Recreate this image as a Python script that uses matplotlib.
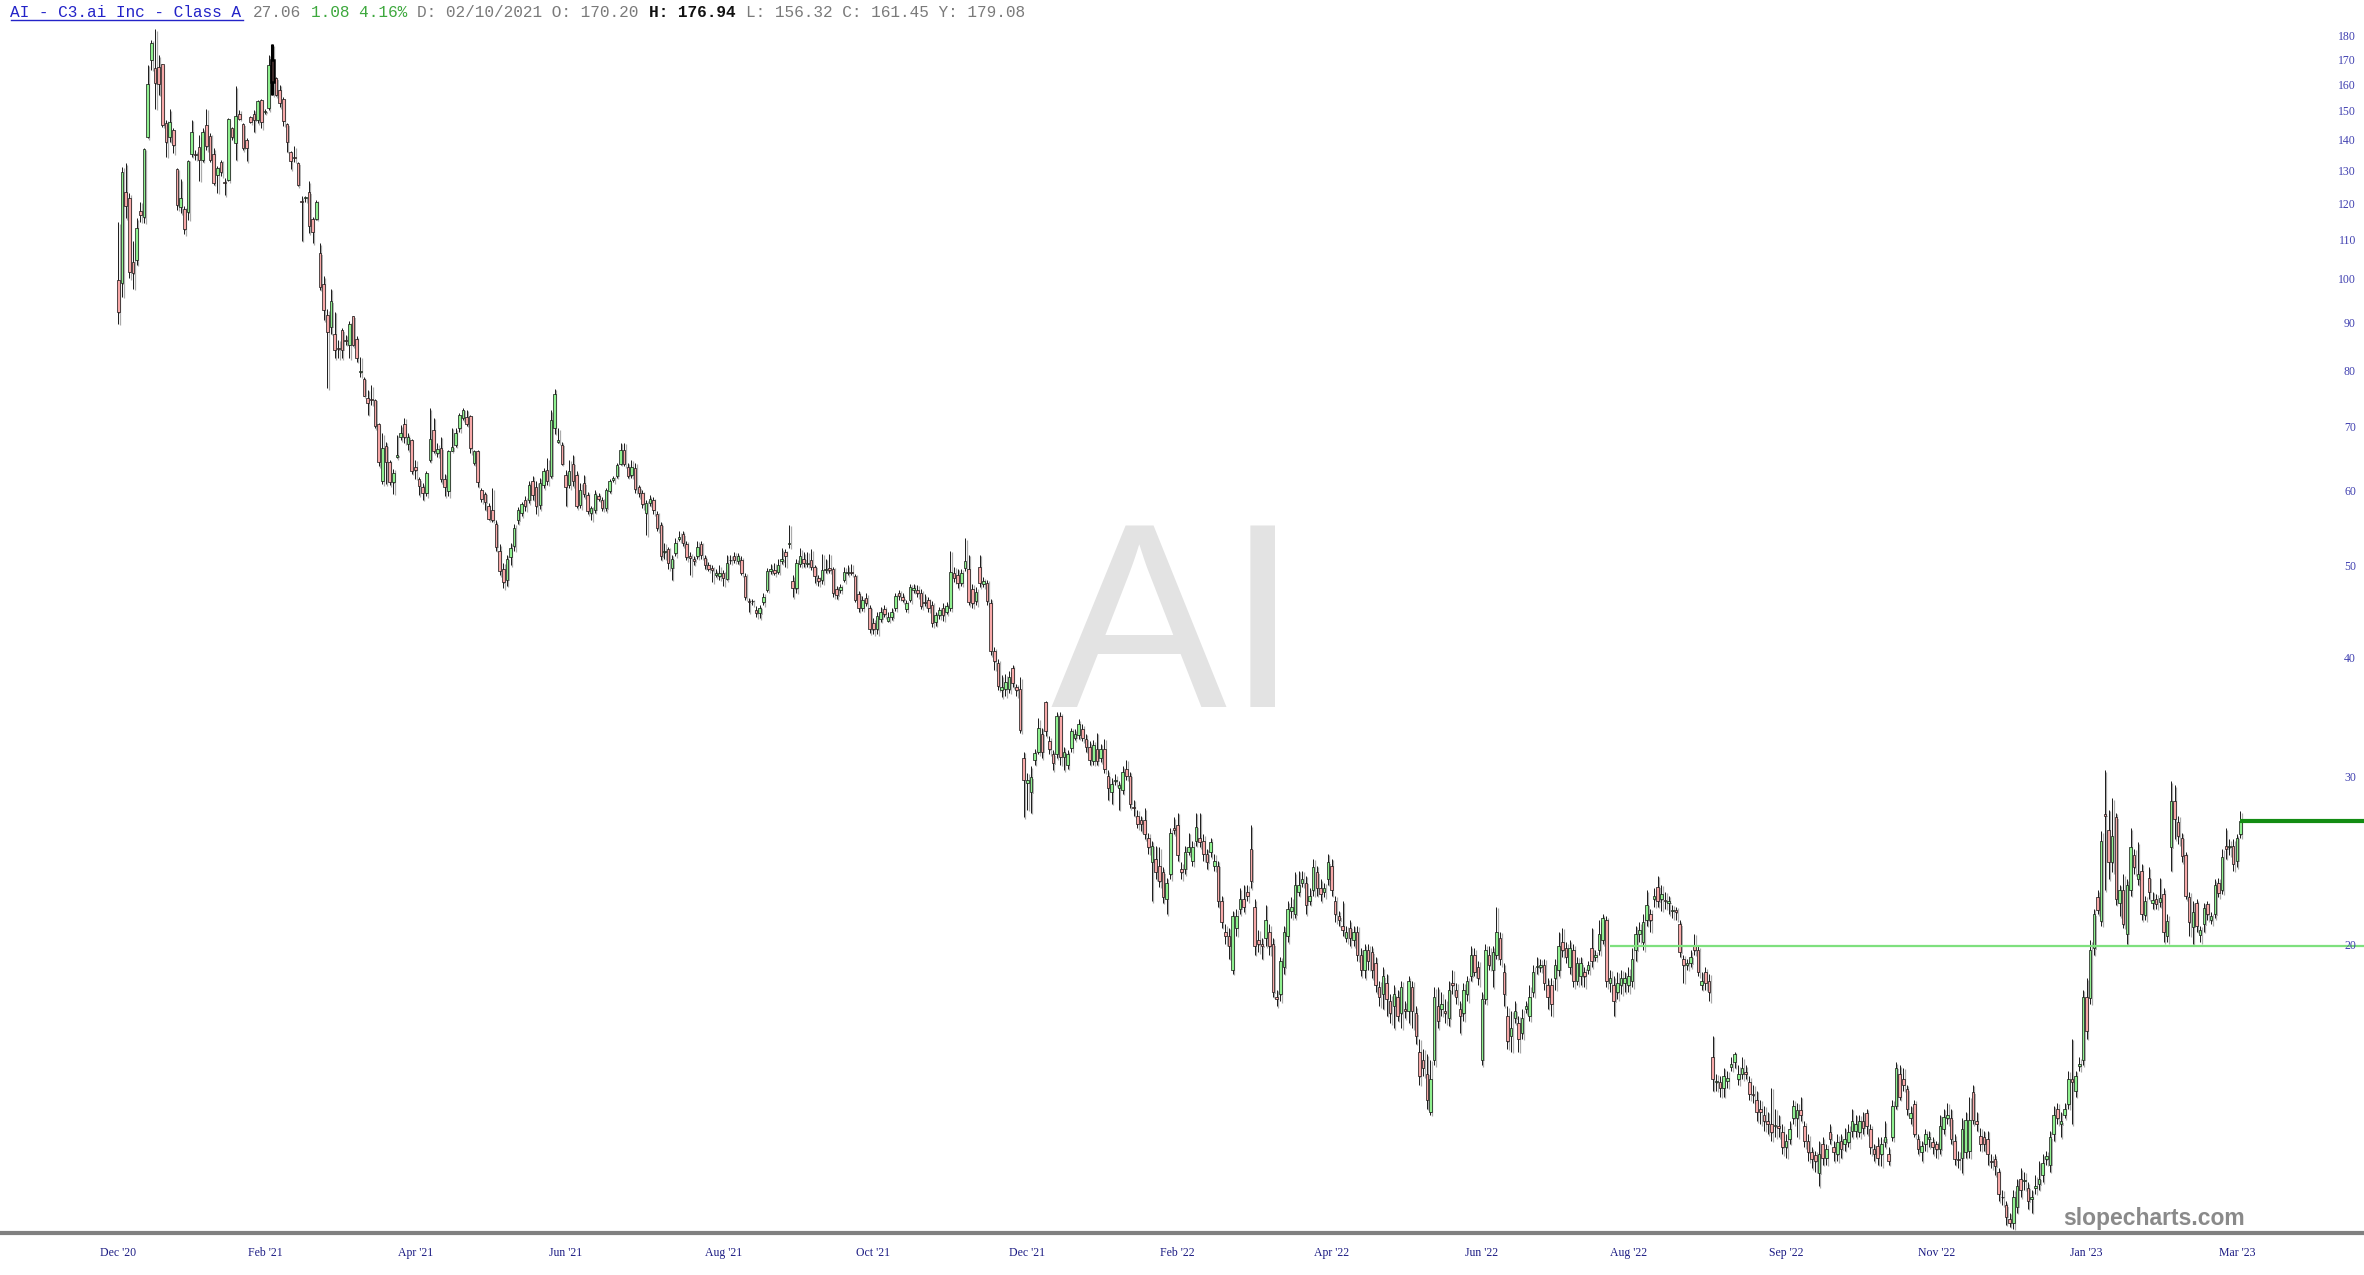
import numpy as np
import matplotlib.pyplot as plt
from matplotlib.lines import Line2D
from matplotlib.transforms import ScaledTranslation, blended_transform_factory

# Daily candles for AI (C3.ai), Dec 2020 - Mar 2023
open_ = [
    100.0, 99.3, 123.7, 122.0, 104.4, 104.9, 118.3, 116.4, 141.5, 170.3,
    166.8, 167.5, 168.4, 146.1, 141.5, 143.8, 130.8, 119.3, 118.7, 117.8,
    135.7, 135.7, 138.0, 133.7, 145.4, 141.7, 135.7, 129.0, 133.1, 126.8,
    127.5, 144.4, 139.2, 149.3, 145.8, 140.3, 148.4, 149.3, 147.3, 154.7,
    150.0, 151.6, 170.2, 162.8, 158.4, 154.9, 145.8, 136.4, 134.6, 132.6,
    121.1, 122.0, 123.7, 115.8, 115.9, 106.7, 99.1, 91.9, 89.4, 87.9,
    84.8, 88.6, 86.5, 85.6, 91.6, 86.7, 80.0, 78.8, 75.3, 75.0,
    74.9, 70.6, 61.6, 67.0, 64.5, 61.4, 65.3, 68.4, 70.6, 67.3,
    68.0, 63.6, 61.8, 60.7, 59.8, 64.8, 69.7, 65.8, 66.6, 61.9,
    60.1, 66.2, 67.1, 69.9, 71.6, 71.9, 72.0, 64.3, 66.1, 60.2,
    59.7, 58.0, 57.4, 55.5, 52.0, 49.8, 48.5, 51.2, 52.6, 56.0,
    57.0, 58.8, 58.8, 61.5, 60.7, 58.1, 61.0, 63.2, 62.3, 69.9,
    67.6, 67.2, 62.5, 61.0, 64.2, 62.5, 58.1, 61.2, 59.5, 56.9,
    57.4, 59.4, 58.8, 57.6, 60.1, 61.7, 62.3, 64.2, 66.4, 63.7,
    62.4, 63.5, 60.6, 59.8, 56.9, 58.3, 58.8, 56.8, 55.4, 51.8,
    52.2, 49.9, 51.7, 53.5, 54.1, 52.9, 51.3, 51.0, 51.3, 52.8,
    51.1, 50.3, 49.9, 49.1, 48.9, 49.3, 48.6, 50.8, 51.4, 50.7,
    50.9, 48.9, 46.0, 46.0, 45.1, 44.7, 45.9, 47.3, 49.5, 49.6,
    49.4, 50.7, 51.8, 52.9, 48.3, 47.5, 50.4, 51.0, 50.4, 50.9,
    50.0, 48.7, 48.4, 49.6, 49.9, 49.7, 47.4, 47.3, 48.5, 49.3,
    49.4, 48.9, 46.8, 45.3, 46.4, 45.3, 43.7, 43.0, 44.1, 45.2,
    43.9, 44.3, 45.3, 46.9, 46.5, 45.2, 46.2, 47.3, 47.3, 47.0,
    45.9, 46.2, 45.6, 43.8, 44.5, 45.3, 44.9, 45.3, 49.3, 49.0,
    48.1, 49.9, 49.7, 47.4, 46.0, 50.0, 48.0, 48.1, 45.8, 40.8,
    39.6, 37.1, 37.2, 37.2, 39.2, 37.4, 37.2, 31.5, 29.7, 29.0,
    31.4, 32.0, 33.4, 36.1, 32.8, 31.8, 31.8, 34.9, 31.6, 31.0,
    32.3, 33.1, 33.3, 33.8, 33.0, 32.4, 31.3, 32.2, 31.5, 32.2,
    30.2, 29.0, 29.8, 29.3, 29.2, 30.7, 30.2, 28.0, 27.4, 27.1,
    27.1, 26.0, 24.5, 24.7, 24.3, 23.9, 22.4, 23.8, 26.6, 26.8,
    24.1, 24.1, 25.1, 24.6, 25.8, 26.0, 25.8, 25.0, 25.1, 24.3,
    24.3, 22.3, 20.7, 20.5, 18.9, 20.9, 21.9, 22.4, 22.8, 25.3,
    22.0, 20.3, 20.1, 20.4, 20.7, 20.1, 17.7, 17.8, 19.0, 20.5,
    21.8, 21.6, 22.8, 23.3, 23.3, 22.3, 22.9, 23.9, 23.0, 22.8,
    23.5, 24.3, 22.3, 21.5, 21.0, 20.4, 20.9, 20.3, 20.7, 19.6,
    18.9, 19.8, 19.7, 19.2, 18.1, 17.8, 18.3, 17.5, 17.3, 17.7,
    17.0, 17.2, 17.1, 18.1, 17.0, 15.5, 15.2, 14.7, 13.4, 15.2,
    17.3, 17.2, 17.1, 16.8, 18.3, 18.0, 17.2, 17.0, 17.8, 18.6,
    19.6, 19.0, 15.2, 17.6, 19.6, 18.9, 19.6, 20.4, 18.8, 16.9,
    16.1, 16.8, 16.6, 16.2, 17.2, 16.9, 17.9, 19.0, 19.0, 19.1,
    18.2, 18.2, 18.5, 18.9, 20.2, 19.9, 19.0, 19.8, 18.4, 18.6,
    18.8, 18.9, 19.9, 19.5, 19.8, 20.3, 21.3, 18.3, 18.2, 17.9,
    18.2, 18.3, 18.2, 18.4, 19.8, 20.6, 20.2, 21.3, 21.6, 22.4,
    23.1, 22.4, 22.35, 22.2, 21.8, 21.85, 21.1, 19.4, 19.1, 19.2,
    20.0, 19.8, 18.2, 18.8, 18.4, 15.3, 14.4, 14.4, 14.2, 14.45,
    14.95, 15.1, 14.5, 14.7, 14.75, 14.4, 14.0, 13.8, 13.5, 13.3,
    13.1, 13.0, 12.95, 12.95, 12.75, 12.3, 12.55, 13.2, 13.2, 13.45,
    12.95, 12.5, 12.15, 12.06, 11.55, 12.4, 12.0, 12.75, 12.3, 12.1,
    12.5, 12.4, 12.45, 12.8, 12.8, 12.75, 13.1, 13.35, 12.85, 12.25,
    12.35, 12.1, 12.45, 12.1, 12.6, 13.6, 14.7, 14.5, 14.15, 13.2,
    13.65, 12.55, 12.15, 12.4, 12.56, 12.45, 12.4, 12.25, 12.85, 13.2,
    13.2, 12.5, 11.95, 12.0, 12.15, 12.2, 14.05, 13.1, 12.65, 12.6,
    12.55, 11.9, 11.95, 11.6, 10.92, 10.7, 10.35, 10.25, 10.65, 11.4,
    11.35, 11.15, 10.85, 11.15, 11.25, 11.5, 11.95, 11.8, 12.7, 13.5,
    13.0, 13.3, 13.65, 14.5, 14.1, 14.97, 15.2, 17.7, 17.65, 19.9,
    22.5, 21.25, 27.5, 26.5, 24.5, 27.3, 22.2, 22.9, 20.6, 22.9,
    24.9, 23.5, 24.0, 21.55, 23.6, 22.2, 22.4, 22.25, 22.7, 20.5,
    25.4, 28.4, 27.0, 26.0, 24.9, 22.5, 20.95, 22.2, 20.55, 21.1,
    22.15, 21.3, 21.6, 23.3, 22.9, 25.5, 25.4, 25.5, 24.6, 26.2,
]

high = [
    115.0, 131.6, 132.6, 123.4, 109.8, 116.1, 120.8, 137.5, 168.2, 178.7,
    183.3, 172.3, 168.8, 147.3, 151.1, 144.4, 131.0, 127.6, 119.5, 133.7,
    147.3, 136.9, 141.9, 144.4, 151.4, 142.7, 137.5, 131.8, 133.7, 128.0,
    147.9, 144.9, 159.8, 150.9, 146.1, 140.9, 148.6, 150.9, 154.7, 155.1,
    151.1, 172.5, 176.94, 163.5, 160.3, 155.5, 146.1, 136.6, 138.2, 133.1,
    122.5, 122.5, 127.0, 116.6, 121.4, 109.3, 101.0, 93.2, 97.9, 92.7,
    86.6, 89.0, 87.6, 90.5, 91.8, 87.3, 83.1, 79.2, 76.7, 77.6,
    75.0, 70.8, 69.1, 67.7, 64.8, 63.4, 68.8, 70.4, 71.7, 69.1,
    68.2, 64.8, 62.1, 61.2, 63.0, 73.4, 71.7, 67.4, 68.5, 62.6,
    66.4, 70.0, 69.9, 72.5, 73.4, 73.1, 72.2, 66.4, 66.4, 60.5,
    60.0, 58.3, 60.5, 56.0, 52.8, 50.5, 51.5, 53.0, 55.5, 57.8,
    58.5, 59.3, 61.5, 62.3, 61.5, 62.0, 63.5, 65.0, 73.0, 76.9,
    69.9, 67.7, 63.2, 64.8, 65.6, 63.0, 61.3, 62.5, 60.0, 58.0,
    60.2, 59.8, 59.2, 60.5, 61.8, 62.3, 64.3, 67.5, 67.5, 64.3,
    64.8, 64.3, 61.0, 60.2, 58.8, 59.5, 59.2, 57.2, 55.8, 53.0,
    52.5, 51.5, 53.6, 54.5, 54.6, 53.3, 51.8, 51.4, 53.3, 53.2,
    51.5, 50.6, 50.2, 49.7, 50.2, 49.6, 51.5, 51.5, 51.9, 51.7,
    51.3, 49.3, 46.4, 46.3, 45.5, 45.6, 47.0, 49.9, 50.4, 50.5,
    51.0, 52.3, 52.2, 55.4, 49.0, 51.0, 52.3, 51.8, 51.9, 52.2,
    50.3, 49.0, 51.6, 51.0, 51.6, 50.0, 47.8, 48.0, 50.0, 50.2,
    50.4, 49.2, 47.2, 46.6, 46.9, 45.6, 44.2, 44.9, 45.4, 45.6,
    44.8, 45.3, 47.0, 47.3, 46.9, 46.2, 48.0, 48.0, 47.9, 47.4,
    46.8, 46.5, 46.0, 44.9, 45.4, 45.8, 45.9, 52.0, 50.0, 49.8,
    49.8, 53.6, 51.5, 48.0, 47.6, 51.5, 48.8, 48.5, 46.3, 41.2,
    40.0, 38.5, 38.6, 38.9, 39.5, 37.7, 38.3, 32.0, 30.4, 30.9,
    32.2, 34.7, 33.9, 36.2, 33.2, 32.1, 35.2, 35.2, 32.4, 32.1,
    33.9, 33.8, 34.6, 34.2, 33.4, 32.8, 32.9, 33.5, 32.6, 33.0,
    30.6, 30.0, 30.3, 29.8, 30.9, 31.4, 30.5, 28.5, 27.8, 27.4,
    27.9, 26.3, 25.8, 25.5, 25.4, 24.2, 23.6, 26.6, 27.3, 27.6,
    24.5, 25.5, 26.3, 25.8, 27.6, 27.6, 26.2, 25.3, 26.0, 25.0,
    24.6, 22.6, 21.1, 20.9, 21.8, 21.9, 23.0, 23.2, 23.2, 26.8,
    22.4, 20.8, 20.4, 22.1, 21.1, 20.4, 18.0, 19.5, 21.0, 22.3,
    22.5, 23.9, 24.0, 24.0, 23.7, 23.0, 24.7, 24.3, 23.5, 23.3,
    25.0, 24.7, 22.6, 21.8, 22.3, 21.0, 21.3, 21.0, 21.0, 19.9,
    20.1, 20.1, 20.0, 19.5, 18.4, 19.0, 18.7, 17.8, 18.2, 18.0,
    18.4, 17.5, 18.6, 18.4, 17.3, 16.0, 15.6, 15.4, 15.2, 18.1,
    18.1, 17.9, 17.6, 18.4, 18.9, 18.3, 17.5, 18.3, 18.6, 20.0,
    19.9, 19.3, 17.9, 20.1, 20.0, 20.0, 22.0, 20.7, 19.2, 17.3,
    17.1, 17.5, 16.9, 17.2, 17.5, 18.2, 19.1, 19.5, 19.4, 19.4,
    18.5, 18.5, 19.4, 20.7, 20.9, 20.2, 20.3, 20.1, 19.5, 19.5,
    19.0, 19.3, 20.9, 19.8, 21.3, 21.6, 21.5, 18.9, 18.6, 18.8,
    18.9, 18.8, 19.0, 19.9, 21.0, 21.2, 21.6, 22.9, 21.9, 23.0,
    23.7, 23.2, 22.8, 22.6, 22.1, 22.0, 21.3, 19.6, 19.4, 19.8,
    20.6, 20.0, 18.8, 19.0, 18.7, 16.1, 14.7, 14.6, 14.9, 14.8,
    15.3, 15.5, 15.0, 15.3, 15.0, 14.6, 14.3, 14.1, 13.8, 13.6,
    13.4, 14.2, 13.5, 13.3, 13.0, 12.7, 13.1, 13.8, 13.7, 13.9,
    13.1, 12.7, 12.3, 12.2, 12.5, 12.6, 12.4, 13.0, 12.5, 12.7,
    12.7, 12.9, 13.0, 13.5, 13.3, 13.3, 13.4, 13.5, 13.0, 12.4,
    12.6, 12.6, 13.1, 12.3, 13.8, 15.1, 15.0, 14.9, 14.3, 13.6,
    13.8, 12.7, 12.5, 12.85, 12.8, 12.6, 12.5, 13.3, 13.5, 13.7,
    13.5, 12.7, 12.2, 13.2, 13.4, 13.9, 14.3, 13.4, 12.9, 12.8,
    12.8, 12.1, 12.1, 11.7, 11.1, 10.8, 10.5, 11.1, 11.4, 11.7,
    11.6, 11.3, 11.1, 11.5, 11.9, 12.1, 12.2, 12.8, 13.6, 13.7,
    13.4, 13.7, 14.8, 16.0, 14.8, 15.3, 18.0, 18.5, 20.3, 21.9,
    22.9, 26.4, 30.6, 27.8, 28.6, 27.6, 23.2, 23.8, 23.5, 26.6,
    25.3, 25.7, 24.4, 22.6, 24.2, 22.8, 22.7, 23.6, 23.0, 21.6,
    29.8, 29.5, 27.4, 26.3, 25.1, 22.8, 22.3, 22.4, 21.0, 22.2,
    22.3, 21.7, 23.5, 23.6, 25.3, 26.6, 25.9, 25.9, 26.2, 27.7,
]

low = [
    90.0, 96.1, 116.1, 100.5, 97.9, 103.8, 115.2, 114.9, 140.9, 166.2,
    151.4, 156.5, 144.9, 134.8, 139.8, 135.9, 118.6, 117.6, 111.8, 115.7,
    134.8, 133.7, 127.2, 133.1, 136.9, 133.1, 125.9, 123.5, 128.5, 122.8,
    127.0, 140.3, 133.7, 147.3, 136.9, 133.3, 146.1, 143.2, 146.1, 144.4,
    149.5, 150.8, 156.32, 155.9, 151.8, 145.2, 136.4, 130.7, 133.1, 125.4,
    110.0, 120.9, 112.0, 109.3, 115.7, 97.7, 90.8, 77.0, 87.9, 82.8,
    82.8, 82.8, 85.6, 82.8, 85.2, 82.1, 79.2, 75.5, 72.2, 74.0,
    69.9, 63.8, 61.1, 61.1, 60.9, 59.7, 65.0, 67.9, 67.4, 66.3,
    62.6, 61.9, 59.5, 58.8, 59.3, 64.5, 65.8, 65.3, 61.4, 59.3,
    59.3, 66.1, 66.9, 69.3, 71.3, 70.3, 65.8, 64.0, 60.7, 58.5,
    57.4, 56.0, 55.8, 52.0, 49.0, 47.5, 47.8, 50.2, 52.0, 55.5,
    56.5, 57.3, 58.3, 58.8, 56.8, 57.5, 60.5, 61.0, 62.0, 69.0,
    67.4, 64.0, 58.0, 60.5, 60.8, 57.6, 57.6, 59.2, 56.8, 56.0,
    57.0, 58.7, 57.3, 57.2, 59.8, 61.4, 62.0, 64.0, 63.8, 62.0,
    62.0, 59.8, 59.2, 57.6, 54.0, 58.0, 56.8, 54.5, 50.9, 51.0,
    49.7, 48.5, 51.3, 53.2, 52.6, 50.8, 49.0, 50.3, 51.0, 51.0,
    49.8, 49.5, 48.2, 48.8, 48.5, 47.8, 48.4, 50.4, 50.5, 50.4,
    49.0, 46.2, 44.8, 45.6, 44.3, 44.2, 45.6, 47.1, 49.2, 49.0,
    49.2, 50.4, 50.0, 52.4, 46.5, 47.0, 50.0, 50.0, 50.0, 49.6,
    48.1, 47.8, 48.0, 49.3, 49.3, 46.5, 46.3, 47.0, 48.2, 49.0,
    49.0, 45.9, 44.9, 45.0, 45.5, 42.6, 42.5, 42.5, 43.8, 44.3,
    43.8, 44.0, 45.0, 46.2, 45.9, 44.9, 45.9, 47.0, 46.5, 45.2,
    45.5, 44.9, 43.3, 43.4, 44.1, 43.9, 44.6, 45.0, 48.2, 47.5,
    47.8, 49.5, 45.6, 45.3, 45.6, 47.6, 47.6, 45.6, 40.4, 39.0,
    37.1, 36.5, 36.6, 36.9, 37.4, 36.6, 33.5, 27.3, 27.8, 27.6,
    31.0, 31.8, 31.5, 33.2, 31.8, 30.6, 31.5, 31.0, 30.6, 30.7,
    32.0, 32.9, 33.0, 32.8, 32.0, 31.0, 31.0, 31.0, 31.2, 30.4,
    28.5, 28.2, 29.5, 27.8, 28.9, 29.9, 27.9, 27.4, 26.6, 26.4,
    25.9, 25.0, 22.3, 23.5, 23.1, 22.2, 21.6, 23.5, 26.2, 24.6,
    23.5, 23.8, 24.9, 24.3, 25.5, 25.4, 24.6, 24.1, 24.8, 24.0,
    22.0, 20.9, 20.1, 19.4, 18.7, 20.5, 21.6, 21.7, 22.3, 23.0,
    19.6, 19.7, 19.4, 20.0, 19.6, 17.7, 17.3, 17.5, 18.7, 20.2,
    21.4, 21.4, 22.6, 23.1, 21.6, 22.1, 22.6, 22.6, 22.3, 22.5,
    23.2, 22.6, 21.2, 21.0, 20.5, 20.2, 20.0, 20.0, 19.3, 18.6,
    18.5, 18.9, 18.5, 17.9, 17.3, 17.2, 16.9, 16.6, 16.4, 16.7,
    16.4, 16.8, 16.6, 16.4, 15.8, 14.3, 14.6, 13.5, 13.3, 15.0,
    16.4, 16.9, 16.6, 16.5, 17.8, 17.4, 16.2, 16.7, 17.5, 18.4,
    18.6, 18.2, 15.0, 17.4, 18.9, 18.1, 19.4, 19.1, 17.3, 15.6,
    15.5, 16.6, 15.5, 16.0, 17.0, 16.7, 17.7, 18.7, 18.8, 18.0,
    17.2, 16.9, 18.0, 18.6, 19.5, 19.2, 18.7, 18.1, 18.2, 18.2,
    18.1, 18.7, 19.0, 19.3, 19.6, 20.1, 18.1, 17.9, 16.9, 17.6,
    17.8, 17.9, 17.9, 18.1, 19.3, 20.2, 19.8, 21.0, 20.7, 22.0,
    22.0, 21.8, 21.9, 21.6, 21.4, 21.3, 19.5, 18.3, 18.9, 19.0,
    19.6, 18.6, 18.0, 18.0, 17.5, 14.1, 14.1, 13.9, 13.9, 14.2,
    14.8, 14.9, 14.3, 14.5, 14.5, 13.8, 13.7, 13.1, 13.0, 12.8,
    12.7, 12.5, 12.6, 12.6, 12.1, 12.0, 12.4, 13.0, 12.6, 13.1,
    12.3, 11.9, 11.7, 11.6, 11.2, 11.8, 11.8, 12.4, 11.9, 11.9,
    12.0, 12.2, 12.3, 12.6, 12.6, 12.6, 12.7, 12.7, 12.1, 11.9,
    11.8, 11.75, 12.3, 11.8, 12.5, 13.5, 13.8, 14.1, 13.3, 13.0,
    12.6, 12.1, 11.9, 12.2, 12.3, 12.1, 12.0, 12.1, 12.7, 13.0,
    12.4, 11.8, 11.7, 11.55, 12.0, 12.0, 13.0, 12.8, 12.2, 12.2,
    11.8, 11.7, 11.5, 10.8, 10.7, 10.2, 10.15, 10.1, 10.5, 10.9,
    11.1, 10.6, 10.5, 11.0, 11.1, 11.3, 11.8, 11.6, 12.5, 13.0,
    12.6, 13.2, 13.5, 13.0, 13.9, 14.8, 15.0, 16.0, 17.4, 19.6,
    21.6, 21.0, 22.9, 23.5, 23.9, 22.1, 21.5, 20.9, 20.1, 22.6,
    23.8, 23.2, 21.3, 21.3, 22.4, 21.9, 21.9, 22.0, 20.2, 20.2,
    24.0, 25.9, 25.6, 24.5, 22.4, 20.5, 20.1, 20.7, 20.2, 20.7,
    21.3, 21.1, 21.4, 22.5, 22.7, 24.7, 24.9, 24.0, 24.2, 26.0,
]

close = [
    92.5, 129.8, 119.5, 102.1, 101.7, 113.4, 117.1, 137.2, 160.5, 177.3,
    161.0, 160.7, 145.5, 139.5, 146.5, 138.6, 119.8, 121.9, 113.1, 133.3,
    143.2, 135.4, 133.7, 142.9, 138.2, 133.7, 126.4, 131.0, 129.8, 126.6,
    147.5, 141.3, 148.6, 147.7, 137.5, 137.6, 146.6, 147.1, 154.1, 146.6,
    150.6, 168.1, 161.45, 156.5, 153.5, 147.0, 139.7, 133.3, 134.4, 125.9,
    120.9, 122.2, 114.1, 112.3, 120.7, 98.3, 93.1, 88.3, 95.0, 84.5,
    84.6, 84.5, 86.3, 90.0, 85.6, 82.8, 80.3, 75.6, 74.4, 74.9,
    70.3, 64.4, 66.6, 64.5, 61.4, 62.8, 65.6, 69.1, 68.4, 68.5,
    63.1, 63.2, 60.8, 59.8, 62.8, 68.2, 66.2, 66.5, 61.9, 60.7,
    66.2, 66.9, 69.1, 72.2, 73.1, 70.6, 66.6, 66.1, 61.4, 59.0,
    58.5, 56.2, 56.0, 52.5, 49.5, 48.2, 51.0, 52.4, 55.0, 57.4,
    58.2, 57.9, 61.0, 59.5, 57.9, 61.2, 63.0, 61.6, 71.4, 75.9,
    68.0, 64.2, 60.7, 63.1, 61.5, 57.9, 60.2, 59.7, 57.2, 57.6,
    59.7, 59.0, 57.6, 60.2, 61.5, 62.0, 63.9, 66.3, 64.2, 62.3,
    63.6, 60.3, 59.8, 58.2, 58.3, 59.0, 57.4, 54.9, 51.3, 52.0,
    50.5, 51.0, 53.0, 53.8, 53.0, 51.2, 51.1, 50.7, 52.5, 51.5,
    50.2, 49.8, 49.6, 49.3, 49.3, 48.7, 50.5, 50.9, 50.9, 51.3,
    49.3, 46.5, 45.9, 46.1, 44.7, 45.3, 46.5, 49.5, 49.7, 49.3,
    50.3, 51.0, 51.4, 53.0, 47.5, 50.5, 51.3, 50.5, 50.5, 50.0,
    48.9, 48.3, 49.6, 49.7, 49.6, 46.9, 46.7, 47.6, 49.4, 49.4,
    49.3, 46.2, 45.3, 46.2, 45.8, 43.0, 43.0, 44.4, 44.8, 44.6,
    44.3, 44.9, 46.6, 46.6, 46.2, 45.8, 47.6, 47.5, 46.9, 45.5,
    45.8, 45.3, 43.7, 44.5, 45.1, 44.5, 45.5, 49.4, 48.7, 48.1,
    49.3, 50.7, 45.9, 45.8, 47.1, 48.1, 48.3, 46.0, 40.8, 39.8,
    37.5, 37.4, 37.9, 38.3, 37.8, 37.1, 33.7, 29.9, 29.9, 30.1,
    31.9, 33.9, 32.0, 33.6, 32.2, 31.1, 34.9, 31.6, 32.0, 31.8,
    33.6, 33.4, 34.2, 33.1, 32.4, 31.4, 32.5, 31.3, 32.2, 30.7,
    29.3, 29.6, 29.9, 29.5, 30.5, 30.2, 28.2, 27.9, 26.9, 26.9,
    26.2, 25.4, 25.5, 23.9, 23.4, 22.5, 23.3, 26.3, 26.5, 24.9,
    23.9, 25.1, 25.4, 25.4, 26.7, 25.7, 25.0, 24.5, 25.7, 24.6,
    22.3, 21.2, 20.5, 20.0, 21.5, 21.5, 22.4, 22.0, 22.6, 23.4,
    20.0, 20.1, 20.0, 21.3, 20.0, 17.9, 17.6, 19.3, 20.7, 21.9,
    22.0, 23.2, 23.2, 23.5, 22.1, 22.6, 24.2, 23.0, 22.7, 23.0,
    24.5, 22.9, 21.6, 21.3, 20.8, 20.7, 20.4, 20.7, 19.6, 18.9,
    19.8, 19.3, 18.9, 18.2, 17.7, 18.6, 17.6, 17.0, 17.8, 16.9,
    18.1, 17.1, 18.4, 17.1, 16.1, 14.6, 14.9, 13.8, 14.5, 17.7,
    16.7, 17.4, 17.0, 18.0, 18.2, 17.7, 16.9, 18.0, 18.4, 19.6,
    18.8, 18.5, 17.6, 19.8, 19.1, 19.7, 20.7, 19.4, 17.8, 15.9,
    16.4, 17.1, 16.0, 16.8, 17.3, 17.7, 18.8, 19.05, 19.1, 18.3,
    17.7, 17.4, 19.1, 20.0, 19.8, 19.5, 19.9, 18.4, 19.2, 19.2,
    18.6, 19.1, 19.3, 19.6, 20.6, 21.4, 18.4, 18.5, 17.5, 18.3,
    18.5, 18.5, 18.6, 19.4, 20.6, 20.8, 21.2, 22.1, 21.3, 22.6,
    22.3, 22.7, 22.3, 22.3, 21.85, 21.7, 19.7, 19.1, 19.2, 19.5,
    19.8, 18.8, 18.4, 18.3, 17.9, 14.5, 14.45, 14.2, 14.6, 14.55,
    15.05, 15.4, 14.7, 14.9, 14.7, 14.0, 13.95, 13.4, 13.4, 13.1,
    13.0, 12.75, 12.97, 12.9, 12.3, 12.5, 12.85, 13.6, 13.45, 13.3,
    12.5, 12.15, 11.95, 11.9, 12.1, 12.0, 12.25, 12.55, 12.15, 12.45,
    12.25, 12.55, 12.75, 13.1, 13.0, 13.1, 12.9, 12.95, 12.3, 12.1,
    12.0, 12.4, 12.6, 11.9, 13.6, 14.9, 13.9, 14.3, 13.5, 13.35,
    12.7, 12.25, 12.35, 12.7, 12.6, 12.3, 12.25, 12.95, 13.25, 13.3,
    12.55, 11.95, 11.94, 12.85, 13.15, 13.15, 13.15, 13.0, 12.4, 12.4,
    12.1, 11.88, 11.75, 11.0, 10.9, 10.4, 10.25, 10.9, 11.2, 11.1,
    11.37, 10.8, 10.9, 11.2, 11.4, 11.85, 12.05, 12.6, 13.3, 13.2,
    13.1, 13.5, 14.5, 14.4, 14.6, 15.05, 17.7, 16.3, 19.8, 21.6,
    21.85, 25.8, 27.4, 24.5, 26.1, 22.4, 22.9, 21.1, 23.2, 25.4,
    24.2, 23.8, 21.6, 22.3, 22.8, 22.35, 22.15, 22.45, 20.7, 21.25,
    28.4, 27.2, 26.1, 24.85, 22.6, 21.2, 21.7, 21.0, 20.8, 21.95,
    21.6, 21.5, 23.2, 22.75, 24.8, 25.3, 25.5, 24.4, 25.98, 27.06,
]

month_labels = ["Dec '20", "Feb '21", "Apr '21", "Jun '21", "Aug '21", "Oct '21",
                "Dec '21", "Feb '22", "Apr '22", "Jun '22", "Aug '22", "Sep '22",
                "Nov '22", "Jan '23", "Mar '23"]
label_bars = [0, 40, 81, 122, 165, 206, 248, 289, 331, 372, 412, 455, 496, 537, 578]
price_ticks = [20, 30, 40, 50, 60, 70, 80, 90, 100, 110, 120, 130, 140, 150,
               160, 170, 180]

support_level = 20.0
support_from = 407
last_price = 27.06
picked_bar = 42

header = [("AI - C3.ai Inc - Class A", 0, "#2323c8", "normal"),
          ("27.06", 25, "#7a7a7a", "normal"),
          ("1.08 4.16%", 31, "#3da83d", "normal"),
          ("D: 02/10/2021 O: 170.20", 42, "#7a7a7a", "normal"),
          ("H: 176.94", 66, "#111111", "bold"),
          ("L: 156.32 C: 161.45 Y: 179.08", 76, "#7a7a7a", "normal")]

n = min(len(open_), len(high), len(low), len(close))
o = np.array(open_[:n])
h = np.array(high[:n])
l = np.array(low[:n])
c = np.array(close[:n])
x = np.arange(n)
up = c >= o
body_lo = np.minimum(o, c)
body_hi = np.maximum(o, c)

W, H = 2364, 1275
fig = plt.figure(figsize=(W / 100, H / 100), dpi=100)
ax = fig.add_axes([0, 42 / H, 1, 1233 / H])
ax.set_yscale("log")
x_right = 612.7
ax.set_xlim(-32.3, x_right)
ax.set_ylim(10.0, 196.8)
ax.tick_params(which="both", length=0, labelleft=False, labelbottom=False)
ax.set_xticks([])
ax.set_yticks([])
ax.yaxis.set_minor_locator(plt.NullLocator())
for side in ["top", "left", "right"]:
    ax.spines[side].set_visible(False)
ax.spines["bottom"].set_color("#808080")
ax.spines["bottom"].set_linewidth(3)

# big ticker watermark
ax.text(1175 / W, 1 - 707 / H, "AI", transform=fig.transFigure, ha="center",
        va="baseline", fontsize=190, color="#e3e3e3", family="Liberation Sans",
        zorder=0.5)

# grey drop shadow, then the candles
shadow = ax.transData + ScaledTranslation(1.5 / 100, -1.5 / 100, fig.dpi_scale_trans)
ax.vlines(x, l, h, colors="#ababab", linewidth=0.9, transform=shadow, zorder=1)
ax.bar(x, body_hi - body_lo, bottom=body_lo, width=0.7, color="#b4b4b4",
       linewidth=0, transform=shadow, zorder=1)

ax.vlines(x, l, h, colors="#1a1a1a", linewidth=0.7, zorder=2)
ax.bar(x, body_hi - body_lo, bottom=body_lo, width=0.7,
       color=np.where(up, "#8ff08f", "#f7a8a8"), edgecolor="#111111",
       linewidth=0.5, zorder=3)

# selected candle
p = picked_bar
ax.vlines(p, l[p], h[p], colors="black", linewidth=2.2, zorder=4)
ax.bar(p, body_hi[p] - body_lo[p], bottom=body_lo[p], width=0.7,
       color="#f7a8a8", edgecolor="black", linewidth=1.8, zorder=5)

# horizontal levels
ax.hlines(support_level, support_from, x_right, colors="#7ee07e", linewidth=1.6, zorder=6)
ax.hlines(last_price, n - 1, x_right, colors="#138c13", linewidth=3.0, zorder=6)

# price labels on the right
ty = blended_transform_factory(ax.transAxes, ax.transData)
for v in price_ticks:
    ax.text(2356 / W, v, str(v), transform=ty, ha="right", va="center",
            fontsize=8.5, color="#4040b0", family="Liberation Serif", zorder=7)

# month labels under the axis
tx = blended_transform_factory(ax.transData, ax.transAxes)
for pos, lab in zip(label_bars, month_labels):
    ax.text(pos, -20 / 1233, lab, transform=tx, ha="center", va="center",
            fontsize=8.5, color="#1c1c84", family="Liberation Serif", clip_on=False)

# header line
cw = 9.68
x0 = 10.5
for s, k, col, wt in header:
    fig.text((x0 + k * cw) / W, 1 - 17 / H, s, fontsize=11.6, family="Liberation Mono",
             color=col, weight=wt, va="baseline", ha="left")
fig.add_artist(Line2D([x0 / W, (x0 + 24 * cw) / W], [1 - 20 / H, 1 - 20 / H],
                      color="#2323c8", linewidth=1))

fig.text(2245 / W, 1 - 1225 / H, "slopecharts.com", ha="right", va="baseline",
         fontsize=16.5, weight="bold", color="#8a8a8a", family="Liberation Sans")

fig.savefig("out.png", dpi=100)
